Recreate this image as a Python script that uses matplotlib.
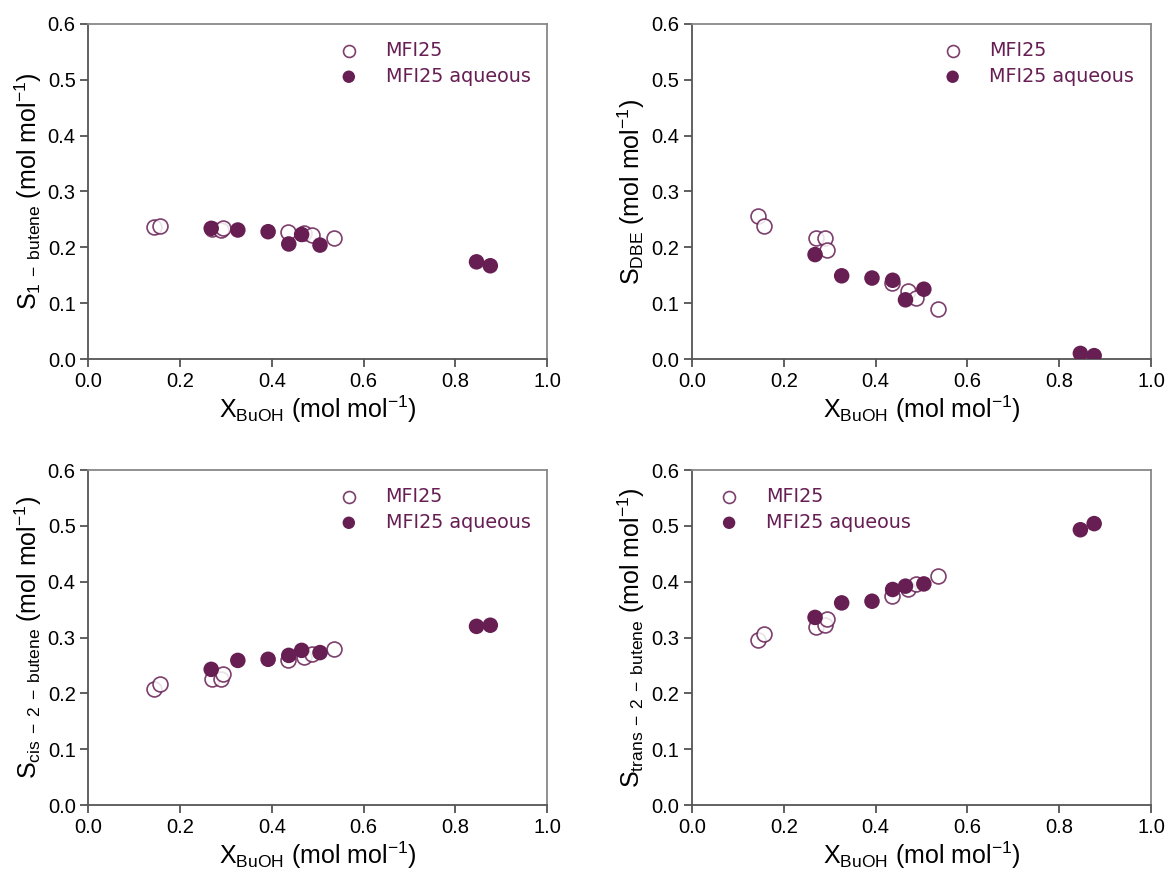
import matplotlib
matplotlib.use("Agg")
import matplotlib.pyplot as plt

# conversion of butanol (shared x values)
X_MFI25 = [0.143, 0.156, 0.269, 0.290, 0.293, 0.435, 0.471, 0.488, 0.535]
X_AQ = [0.268, 0.326, 0.392, 0.437, 0.465, 0.505, 0.846, 0.876]

# selectivities, MFI25 (dry feed)
S_1BUT_MFI25 = [0.237, 0.238, 0.232, 0.231, 0.235, 0.227, 0.225, 0.222, 0.217]
S_DBE_MFI25 = [0.257, 0.238, 0.217, 0.217, 0.195, 0.137, 0.122, 0.110, 0.090]
S_CIS_MFI25 = [0.208, 0.216, 0.226, 0.226, 0.234, 0.260, 0.266, 0.271, 0.280]
S_TRANS_MFI25 = [0.295, 0.307, 0.318, 0.322, 0.334, 0.374, 0.386, 0.395, 0.411]

# selectivities, MFI25 aqueous feed
S_1BUT_AQ = [0.234, 0.231, 0.228, 0.206, 0.223, 0.204, 0.174, 0.167]
S_DBE_AQ = [0.187, 0.149, 0.145, 0.141, 0.106, 0.125, 0.010, 0.006]
S_CIS_AQ = [0.243, 0.259, 0.261, 0.268, 0.277, 0.273, 0.320, 0.322]
S_TRANS_AQ = [0.336, 0.362, 0.365, 0.386, 0.392, 0.396, 0.493, 0.504]

YLABELS = [r"S$_{1\;-\;butene}$ (mol mol$^{-1}$)",
           r"S$_{DBE}$ (mol mol$^{-1}$)",
           r"S$_{cis\;-\;2\;-\;butene}$ (mol mol$^{-1}$)",
           r"S$_{trans\;-\;2\;-\;butene}$ (mol mol$^{-1}$)"]
XLABEL = r"X$_{BuOH}$ (mol mol$^{-1}$)"

PURPLE = "#661e53"

plt.rcParams["font.family"] = "Liberation Sans"
plt.rcParams["mathtext.fontset"] = "custom"
plt.rcParams["mathtext.rm"] = "Liberation Sans"
plt.rcParams["mathtext.it"] = "Liberation Sans"

fig = plt.figure(figsize=(11.68, 8.72), dpi=100)

lefts = [0.0755, 0.5925]
bottoms = [0.5883, 0.0768]
w, h = 0.393, 0.3842

panels = [
    (S_1BUT_MFI25, S_1BUT_AQ, 0.526),
    (S_DBE_MFI25, S_DBE_AQ, 0.526),
    (S_CIS_MFI25, S_CIS_AQ, 0.526),
    (S_TRANS_MFI25, S_TRANS_AQ, 0.039),
]

for i, (y_dry, y_aq, leg_x) in enumerate(panels):
    ax = fig.add_axes([lefts[i % 2], bottoms[i // 2], w, h])
    ax.scatter(X_MFI25, y_dry, s=115, facecolors="white", edgecolors=PURPLE,
               linewidths=1.2, alpha=0.85, label="MFI25", zorder=3)
    ax.scatter(X_AQ, y_aq, s=125, color=PURPLE, edgecolors="none",
               label="MFI25 aqueous", zorder=3)
    ax.set_xlim(0, 1.0)
    ax.set_ylim(0, 0.6)
    ax.set_xticks([0, 0.2, 0.4, 0.6, 0.8, 1.0])
    ax.set_yticks([0, 0.1, 0.2, 0.3, 0.4, 0.5, 0.6])
    ax.tick_params(direction="out", length=6, width=1.2, color="#444444",
                   labelsize=14.5, pad=3)
    for side in ["left", "bottom"]:
        ax.spines[side].set_color("#555555")
        ax.spines[side].set_linewidth(1.3)
    for side in ["top", "right"]:
        ax.spines[side].set_color("#888888")
        ax.spines[side].set_linewidth(1.3)
    ax.set_xlabel(XLABEL, fontsize=18, labelpad=2)
    ax.set_ylabel(YLABELS[i], fontsize=18, labelpad=3)
    leg = ax.legend(loc="upper left", bbox_to_anchor=(leg_x, 0.949),
                    frameon=False, borderpad=0, borderaxespad=0,
                    prop={"family": "DejaVu Sans", "size": 13.8},
                    handlelength=2.0, handletextpad=0.92, labelspacing=0.35,
                    markerscale=0.8)
    for t in leg.get_texts():
        t.set_color(PURPLE)

fig.savefig("out.png", dpi=100)
